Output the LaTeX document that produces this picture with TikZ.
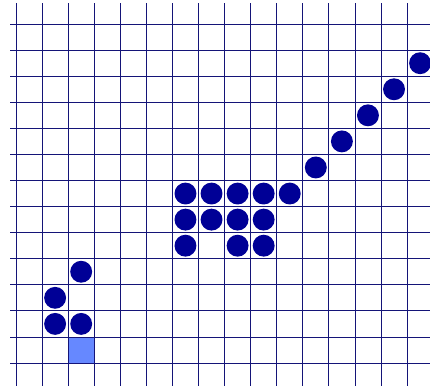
\documentclass[tikz,border=0pt]{standalone}
\usetikzlibrary{positioning}
\definecolor{gridnavy}{RGB}{20,20,120}
\definecolor{piecenavy}{RGB}{0,0,150}
\definecolor{cellblue}{RGB}{102,136,255}

\begin{document}
\begin{tikzpicture}[x=1cm,y=1cm,
  gridline/.style={draw=gridnavy,line width=.8pt},
  piece/.style={fill=piecenavy}]
\useasboundingbox (-0.614,-0.882) rectangle (15.88,13.924);
% marked cell
\fill[cellblue] (2,0) rectangle (3,1);
% board
\foreach \i in {0,...,15} \draw[gridline] (\i,-0.882) -- (\i,13.81);
\foreach \j in {0,...,13} \draw[gridline] (-0.23,\j) -- (15.88,\j);
% lower left group
\foreach \p in {(1.5,1.5),(2.5,1.5),(1.5,2.5),(2.5,3.5)}
  \fill[piece] \p circle (0.42);
% middle block
\foreach \p in {(6.5,6.5),(7.5,6.5),(8.5,6.5),(9.5,6.5),(10.5,6.5),
                (6.5,5.5),(7.5,5.5),(8.5,5.5),(9.5,5.5),
                (6.5,4.5),(8.5,4.5),(9.5,4.5)}
  \fill[piece] \p circle (0.42);
% diagonal
\foreach \k in {0,...,4}
  \fill[piece] (11.5+\k,7.5+\k) circle (0.42);
\end{tikzpicture}
\end{document}
